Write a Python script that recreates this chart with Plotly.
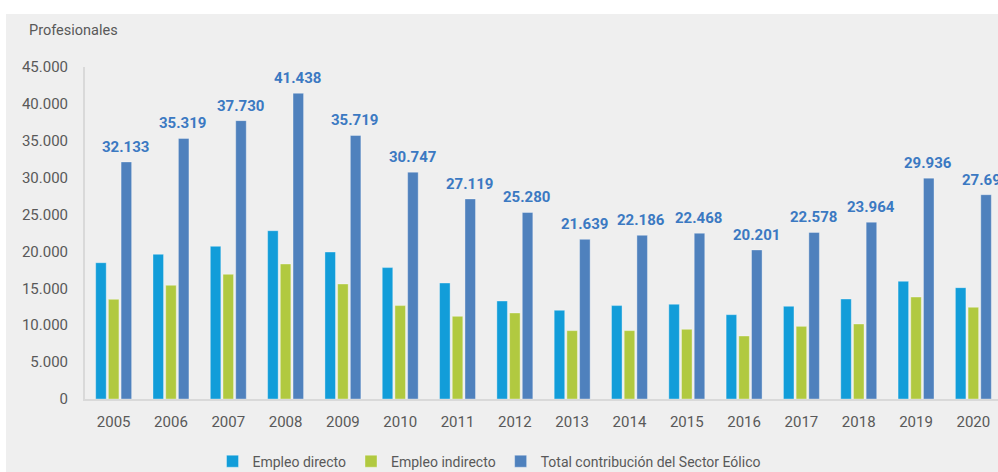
import plotly.graph_objects as go

# Empleo en el sector eólico (profesionales), 2005-2020
years = ["2005", "2006", "2007", "2008", "2009", "2010", "2011", "2012",
         "2013", "2014", "2015", "2016", "2017", "2018", "2019", "2020"]
empleo_directo = [18470, 19610, 20690, 22810, 19920, 17810, 15720, 13280,
                  12020, 12660, 12840, 11430, 12560, 13550, 15950, 15090]
empleo_indirecto = [13510, 15410, 16900, 18300, 15590, 12660, 11210, 11660,
                    9270, 9270, 9450, 8540, 9850, 10170, 13820, 12430]
total_sector = [32133, 35319, 37730, 41438, 35719, 30747, 27119, 25280,
                21639, 22186, 22468, 20201, 22578, 23964, 29936, 27690]
y_ticks = [0, 5000, 10000, 15000, 20000, 25000, 30000, 35000, 40000, 45000]

COL_DIR = "#129dd9"
COL_IND = "#b1c940"
COL_TOT = "#4f81bd"
COL_LBL = "#3b79c2"
COL_TXT = "#595959"
FONT = "Roboto"

def miles(v):
    return f"{v:,}".replace(",", ".")

fig = go.Figure()
edge = dict(color="rgba(255,255,255,0.35)", width=1)
fig.add_trace(go.Bar(x=years, y=empleo_directo, name="Empleo directo",
                     marker=dict(color=COL_DIR, line=edge)))
fig.add_trace(go.Bar(x=years, y=empleo_indirecto, name="Empleo indirecto",
                     marker=dict(color=COL_IND, line=edge)))
fig.add_trace(go.Bar(x=years, y=total_sector,
                     name="Total contribución del Sector Eólico",
                     marker=dict(color=COL_TOT, line=edge)))

# value labels over the total bars (category axis: position by index)
for i, v in enumerate(total_sector):
    fig.add_annotation(x=i, y=v, text=miles(v), showarrow=False,
                       xref="x", yref="y", xanchor="center", yanchor="bottom",
                       xshift=12, yshift=4,
                       font=dict(family=FONT, size=15, color=COL_LBL,
                                 weight="bold"))

# axis title
fig.add_annotation(text="Profesionales", xref="paper", yref="paper",
                   x=(27 - 85) / 913, y=(399 - 31) / 332,
                   xanchor="left", yanchor="middle", showarrow=False,
                   font=dict(family=FONT, size=14.5, color=COL_TXT))

# grey panel behind the chart
fig.add_shape(type="rect", xref="paper", yref="paper",
              x0=(6 - 85) / 913, x1=1.02, y0=-0.3, y1=(399 - 14) / 332,
              fillcolor="#efefef", line=dict(width=0), layer="below")

fig.update_layout(
    width=998, height=472,
    margin=dict(l=85, r=0, t=67, b=73),
    paper_bgcolor="white", plot_bgcolor="rgba(0,0,0,0)",
    separators=",.",
    barmode="group", bargap=0.335, bargroupgap=0.17,
    font=dict(family=FONT, color=COL_TXT),
    showlegend=True,
    legend=dict(orientation="h", xref="container", yref="container",
                x=0.49, xanchor="center", y=0.022, yanchor="middle",
                font=dict(family=FONT, size=14, color=COL_TXT),
                bgcolor="rgba(0,0,0,0)"),
)
fig.update_xaxes(type="category", range=[-0.5, 15.43],
                 showline=True, linecolor="#d9d9d9", linewidth=2,
                 showgrid=False, zeroline=False, ticks="",
                 ticklabelstandoff=8,
                 tickfont=dict(family=FONT, size=15, color=COL_TXT))
fig.update_yaxes(range=[0, 45000], tickvals=y_ticks, tickformat=",d",
                 showline=True, linecolor="#d9d9d9", linewidth=2,
                 showgrid=False, zeroline=False, ticks="",
                 ticklabelstandoff=12,
                 tickfont=dict(family=FONT, size=15, color=COL_TXT))

fig.write_html("out.html")
